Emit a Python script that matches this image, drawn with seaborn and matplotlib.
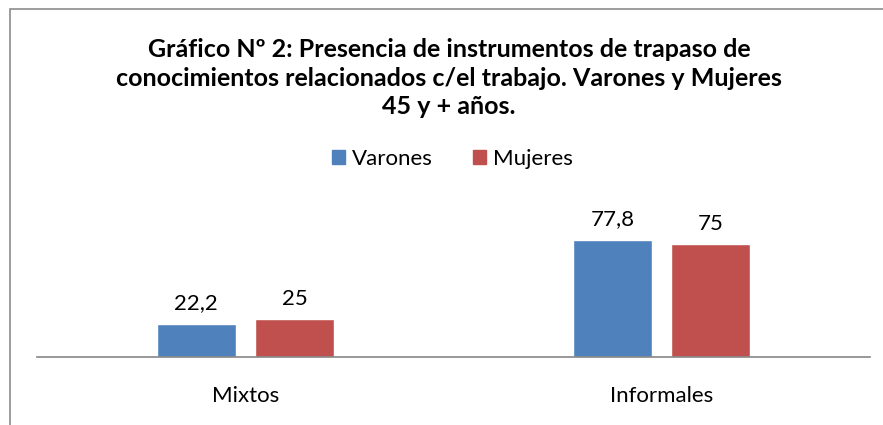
import matplotlib
matplotlib.use('Agg')
import matplotlib.pyplot as plt
import seaborn as sns
import pandas as pd
from matplotlib.patches import Patch

# data
categorias = ['Mixtos', 'Informales']
varones = [22.2, 77.8]
mujeres = [25, 75]
etiquetas_varones = ['22,2', '77,8']
etiquetas_mujeres = ['25', '75']

df = pd.DataFrame({
    'Categoria': categorias * 2,
    'Valor': varones + mujeres,
    'Sexo': ['Varones'] * 2 + ['Mujeres'] * 2,
})

sns.set_style('white')
plt.rcParams['font.family'] = ['Lato', 'DejaVu Sans']
plt.rcParams['text.color'] = 'black'
plt.rcParams['xtick.color'] = 'black'

fig = plt.figure(figsize=(8.83, 4.25), dpi=100)
ax = fig.add_axes([37/883, 68/425, 833/883, 167/425])

sns.barplot(data=df, x='Categoria', y='Valor', hue='Sexo',
            palette=['#4F81BD', '#C0504D'], width=0.472, gap=0.195,
            saturation=1, ax=ax, legend=False)

ax.set_xlim(-0.5, 1.5)
ax.set_ylim(0, 111)
ax.set_xlabel('')
ax.set_ylabel('')
ax.set_yticks([])
ax.tick_params(axis='x', length=0, pad=21, labelsize=16, labelcolor='black')
for s in ['top', 'right', 'left']:
    ax.spines[s].set_visible(False)
ax.spines['bottom'].set_color('#868686')
ax.spines['bottom'].set_linewidth(1.2)

for cont, labs in zip(ax.containers, [etiquetas_varones, etiquetas_mujeres]):
    ax.bar_label(cont, labels=labs, padding=7.5, fontsize=16, color='black')

# legend
handles = [Patch(color='#4F81BD', label='Varones'),
           Patch(color='#C0504D', label='Mujeres')]
fig.legend(handles=handles, loc='center', bbox_to_anchor=(452/883, 1 - 159/425),
           ncol=2, frameon=False, fontsize=16, handlelength=0.6, handleheight=0.6,
           handletextpad=0.3, columnspacing=1.8)

fig.text(449/883, 1 - 78/425,
         'Gráfico Nº 2: Presencia de instrumentos de trapaso de\n'
         'conocimientos relacionados c/el trabajo. Varones y Mujeres\n'
         '45 y + años.',
         ha='center', va='center', fontsize=18, fontweight='bold',
         linespacing=1.3, color='black')

# chart border (right and bottom edges fall outside the image)
border = plt.Rectangle((10/883, -0.1), 1.0, 1 - 9/425 + 0.1,
                       transform=fig.transFigure, fill=False,
                       edgecolor='#8c8c8c', linewidth=1.2)
fig.patches.append(border)

fig.savefig('out.png', dpi=100)
